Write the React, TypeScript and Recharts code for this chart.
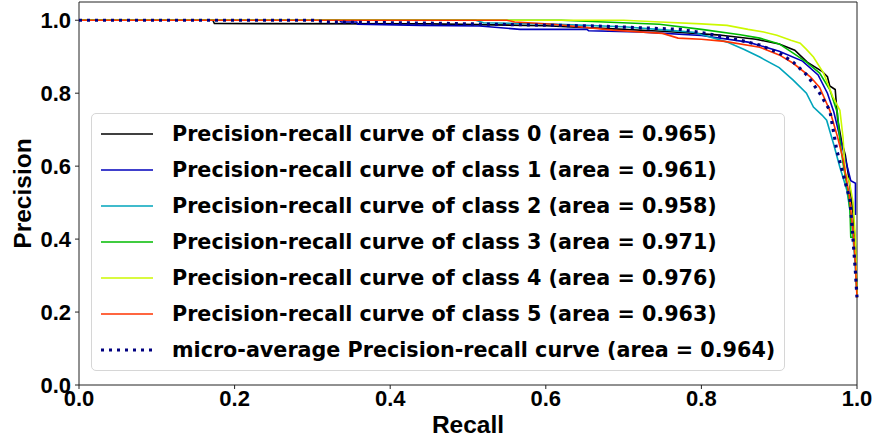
import { LineChart, Line, XAxis, YAxis, ReferenceArea } from "recharts";

// [recall, precision] pairs for each curve
const class0: [number, number][] = [
  [0, 1], [0.172, 1], [0.174, 0.991], [0.45, 0.99], [0.6, 0.985], [0.68, 0.977],
  [0.75, 0.97], [0.82, 0.96], [0.87, 0.948], [0.9, 0.935], [0.92, 0.918],
  [0.936, 0.885], [0.955, 0.86], [0.962, 0.845], [0.965, 0.82], [0.972, 0.81],
  [0.975, 0.73], [0.98, 0.67], [0.985, 0.63], [0.99, 0.56], [0.995, 0.47],
  [0.998, 0.38], [1, 0.24],
];
const class1: [number, number][] = [
  [0, 1], [0.335, 1], [0.337, 0.995], [0.357, 0.995], [0.358, 0.989], [0.44, 0.986],
  [0.515, 0.984], [0.567, 0.975], [0.653, 0.975], [0.655, 0.971], [0.72, 0.968],
  [0.8, 0.958], [0.86, 0.94], [0.9, 0.915], [0.93, 0.888], [0.95, 0.85],
  [0.962, 0.8], [0.97, 0.75], [0.978, 0.68], [0.985, 0.62], [0.992, 0.56],
  [0.998, 0.553], [0.998, 0.466],
];
const class2: [number, number][] = [
  [0, 1], [0.51, 1], [0.52, 0.993], [0.6, 0.99], [0.7, 0.982], [0.756, 0.973],
  [0.79, 0.967], [0.81, 0.955], [0.833, 0.94], [0.855, 0.92], [0.875, 0.899],
  [0.9, 0.87], [0.918, 0.836], [0.935, 0.8], [0.944, 0.762], [0.955, 0.74],
  [0.961, 0.726], [0.97, 0.66], [0.978, 0.597], [0.987, 0.534], [0.993, 0.45],
  [0.997, 0.35], [1, 0.25],
];
const class3: [number, number][] = [
  [0, 1], [0.62, 1], [0.746, 0.989], [0.8, 0.975], [0.85, 0.96], [0.875, 0.951],
  [0.9, 0.935], [0.918, 0.91], [0.935, 0.885], [0.952, 0.855], [0.965, 0.81],
  [0.975, 0.745], [0.978, 0.671], [0.982, 0.608], [0.988, 0.534], [0.991, 0.479],
  [0.992, 0.405], [0.997, 0.405], [1, 0.25],
];
const class4: [number, number][] = [
  [0, 1], [0.7, 1], [0.747, 0.995], [0.8, 0.99], [0.833, 0.986], [0.86, 0.975],
  [0.88, 0.968], [0.897, 0.959], [0.915, 0.945], [0.927, 0.937], [0.935, 0.92],
  [0.944, 0.899], [0.957, 0.855], [0.969, 0.79], [0.978, 0.753], [0.982, 0.68],
  [0.985, 0.58], [0.99, 0.56], [0.995, 0.5], [0.998, 0.4], [1, 0.24],
];
const class5: [number, number][] = [
  [0, 1], [0.55, 1], [0.56, 0.995], [0.61, 0.989], [0.686, 0.973], [0.75, 0.964],
  [0.77, 0.951], [0.8, 0.948], [0.83, 0.942], [0.875, 0.926], [0.9, 0.905],
  [0.918, 0.882], [0.94, 0.845], [0.952, 0.816], [0.965, 0.753], [0.975, 0.68],
  [0.982, 0.62], [0.99, 0.52], [0.995, 0.42], [0.998, 0.33], [1, 0.24],
];
const microAvg: [number, number][] = [
  [0, 1], [0.3, 1], [0.32, 0.995], [0.45, 0.992], [0.666, 0.984], [0.772, 0.975],
  [0.811, 0.962], [0.85, 0.945], [0.875, 0.932], [0.9, 0.91], [0.918, 0.885],
  [0.936, 0.849], [0.952, 0.8], [0.965, 0.753], [0.974, 0.644], [0.982, 0.58],
  [0.991, 0.507], [0.995, 0.397], [0.998, 0.31], [1, 0.24],
];

const areas = [0.965, 0.961, 0.958, 0.971, 0.976, 0.963];
const microArea = 0.964;
const colors = ["#000000", "#0000bb", "#00a4bb", "#00bb00", "#ccf900", "#ff3300"];
const ticks = [0, 0.2, 0.4, 0.6, 0.8, 1.0];

const toRows = (pts: [number, number][]) => pts.map(([recall, precision]) => ({ recall, precision }));

const classCurves = [class0, class1, class2, class3, class4, class5].map((pts, i) => ({
  name: `Precision-recall curve of class ${i} (area = ${areas[i].toFixed(3)})`,
  color: colors[i],
  data: toRows(pts),
}));

const font = '"Liberation Sans", Arial, sans-serif';
const legendFont = '"DejaVu Sans", sans-serif';
const tickStyle = { fontSize: 22, fontWeight: 700, fill: "#000", fontFamily: font };
const axisLabelStyle = { fontSize: 24.5, fontWeight: 700, fill: "#000", fontFamily: font };
const fmt = (v: number) => v.toFixed(1);

export default function App() {
  const legendItems = [
    ...classCurves.map((c) => ({ name: c.name, color: c.color, dotted: false })),
    { name: `micro-average Precision-recall curve (area = ${microArea.toFixed(3)})`, color: "#000080", dotted: true },
  ];

  return (
    <div style={{ position: "absolute", left: 0, top: 0, width: 878, height: 442, background: "#fff", fontFamily: font }}>
      <LineChart width={878} height={442} margin={{ top: 2, right: 21, bottom: 0, left: 0 }}>
        <XAxis
          type="number"
          dataKey="recall"
          domain={[0, 1]}
          ticks={ticks}
          tickFormatter={fmt}
          allowDuplicatedCategory={false}
          axisLine={false}
          tickSize={4}
          tickMargin={1}
          tick={tickStyle}
          tickLine={{ stroke: "#222" }}
          height={57}
          label={{ value: "Recall", position: "center", dy: 11, ...axisLabelStyle }}
        />
        <YAxis
          type="number"
          dataKey="precision"
          domain={[0, 1.05]}
          ticks={ticks}
          tickFormatter={fmt}
          axisLine={false}
          tickSize={4}
          tickMargin={4}
          tick={tickStyle}
          tickLine={{ stroke: "#222" }}
          width={79}
          label={{ value: "Precision", angle: -90, position: "center", dx: -17, ...axisLabelStyle }}
        />
        <ReferenceArea x1={0} x2={1} y1={0} y2={1.05} fill="none" stroke="#222" strokeWidth={1} />
        {classCurves.map((c) => (
          <Line
            key={c.name}
            data={c.data}
            dataKey="precision"
            name={c.name}
            type="linear"
            stroke={c.color}
            strokeWidth={1.6}
            dot={false}
            isAnimationActive={false}
          />
        ))}
        <Line
          data={toRows(microAvg)}
          dataKey="precision"
          name="micro-average"
          type="linear"
          stroke="#000080"
          strokeWidth={3.2}
          strokeDasharray="3 5"
          dot={false}
          isAnimationActive={false}
        />
      </LineChart>

      <div
        style={{
          position: "absolute",
          left: 91,
          top: 113,
          width: 694,
          height: 258,
          boxSizing: "border-box",
          border: "1px solid #d6d6d6",
          borderRadius: 5,
          background: "rgba(255,255,255,0.8)",
          paddingTop: 2,
          fontFamily: legendFont,
        }}
      >
        {legendItems.map((item) => (
          <div key={item.name} style={{ display: "flex", alignItems: "center", height: 36 }}>
            <svg width={80} height={10} style={{ flex: "none" }}>
              <line
                x1={9}
                x2={61}
                y1={5}
                y2={5}
                stroke={item.color}
                strokeWidth={item.dotted ? 3.2 : 1.6}
                strokeDasharray={item.dotted ? "3 5" : undefined}
              />
            </svg>
            <span style={{ fontSize: 20.7, fontWeight: 700, color: "#000", whiteSpace: "nowrap" }}>{item.name}</span>
          </div>
        ))}
      </div>
    </div>
  );
}
